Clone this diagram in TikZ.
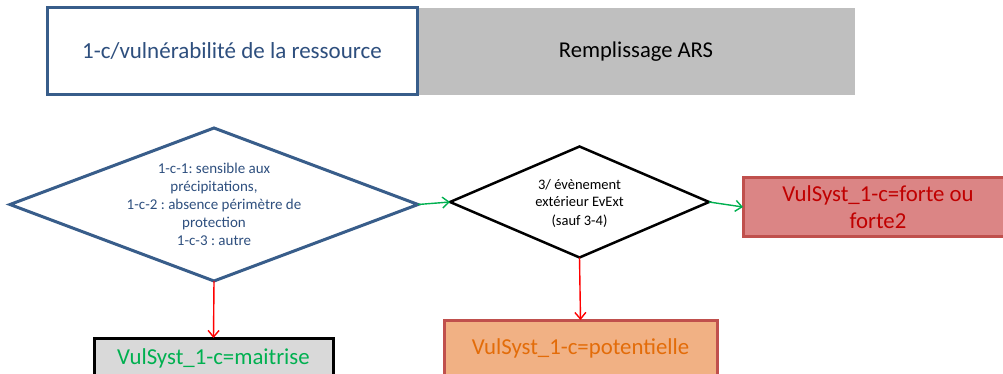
\documentclass[tikz,border=0pt]{standalone}
\usepackage{fontspec}
\setmainfont{Carlito}
\usetikzlibrary{shapes.geometric,arrows.meta}
\frenchspacing

\definecolor{hdblue}{HTML}{385D8A}
\definecolor{hdtext}{HTML}{2E4F7E}
\definecolor{hdgray}{HTML}{BFBFBF}
\definecolor{okgreen}{HTML}{00B050}
\definecolor{nogo}{HTML}{FF0000}
\definecolor{redfill}{HTML}{DB8585}
\definecolor{redline}{HTML}{C0504D}
\definecolor{redtext}{HTML}{C00000}
\definecolor{grayfill}{HTML}{D9D9D9}
\definecolor{orfill}{HTML}{F1B184}
\definecolor{ortext}{HTML}{E36C09}

% text block that takes no room, so the diamond keeps its given size
\newcommand{\freetext}[2][0pt]{\smash{\makebox[0pt]{\raisebox{#1}{%
  \begin{tabular}{@{}c@{}}#2\end{tabular}}}}}

\tikzset{
  barb/.style={-{Straight Barb[length=6.5pt,width=11pt]}, line width=1.4pt},
  yesarrow/.style={barb, draw=okgreen},
  noarrow/.style={barb, draw=nogo},
  headbox/.style={rectangle, inner sep=0pt, outer sep=0pt},
  decision/.style={diamond, inner sep=0pt, outer sep=0pt},
  outcome/.style={rectangle, inner sep=0pt, outer sep=0pt, align=center,
    line width=3pt, font=\fontsize{22.8}{27}\selectfont},
}

\begin{document}
\begin{tikzpicture}[x=1pt, y=-1pt]
  \useasboundingbox (0,0) rectangle (1003,374);
  \clip (0,0) rectangle (1003,374);

  % header band
  \node[headbox, fill=hdgray, minimum width=438pt, minimum height=87pt,
        font=\fontsize{22.6}{26}\selectfont]
        (ars) at (636,51.5) {Remplissage ARS};
  \node[headbox, draw=hdblue, fill=white, line width=3pt,
        minimum width=370pt, minimum height=87pt, text=hdtext,
        font=\fontsize{23}{26}\selectfont]
        (title) at (232,51.5) {1-c/vulnérabilité de la ressource};

  % decisions
  \node[decision, draw=hdblue, line width=3pt, text=hdtext,
        minimum width=408pt, minimum height=153pt,
        font=\fontsize{15}{18}\selectfont]
        (d1) at (214,204.5)
        {\freetext[-5pt]{1-c-1: sensible aux\\précipitations,\\1-c-2 : absence périmètre de\\protection\\1-c-3 : autre}};
  \node[decision, draw=black, line width=2.5pt,
        minimum width=259pt, minimum height=111pt,
        font=\fontsize{14.5}{18}\selectfont]
        (d2) at (579.5,202)
        {\freetext[-5pt]{3/ évènement\\extérieur EvExt\\(sauf 3-4)}};

  % outcomes
  \node[outcome, draw=redline, fill=redfill, text=redtext,
        minimum width=270pt, minimum height=58pt]
        (forte) at (878,207) {VulSyst\_1-c=forte ou\\forte2};
  \node[outcome, draw=black, fill=grayfill, text=okgreen,
        minimum width=239pt, minimum height=40pt]
        (maitrise) at (213.5,358) {VulSyst\_1-c=maitrise};
  \node[outcome, draw=redline, fill=orfill, text=ortext,
        minimum width=273pt, minimum height=56pt]
        (pot) at (580.5,348) {VulSyst\_1-c=potentielle};

  % connectors
  \draw[yesarrow] (d1.east) -- (d2.west);
  \draw[yesarrow] (d2.east) -- (forte.west);
  \draw[noarrow] (d1.south) -- (maitrise.north);
  \draw[noarrow] (d2.south) -- (pot.north);
\end{tikzpicture}
\end{document}
